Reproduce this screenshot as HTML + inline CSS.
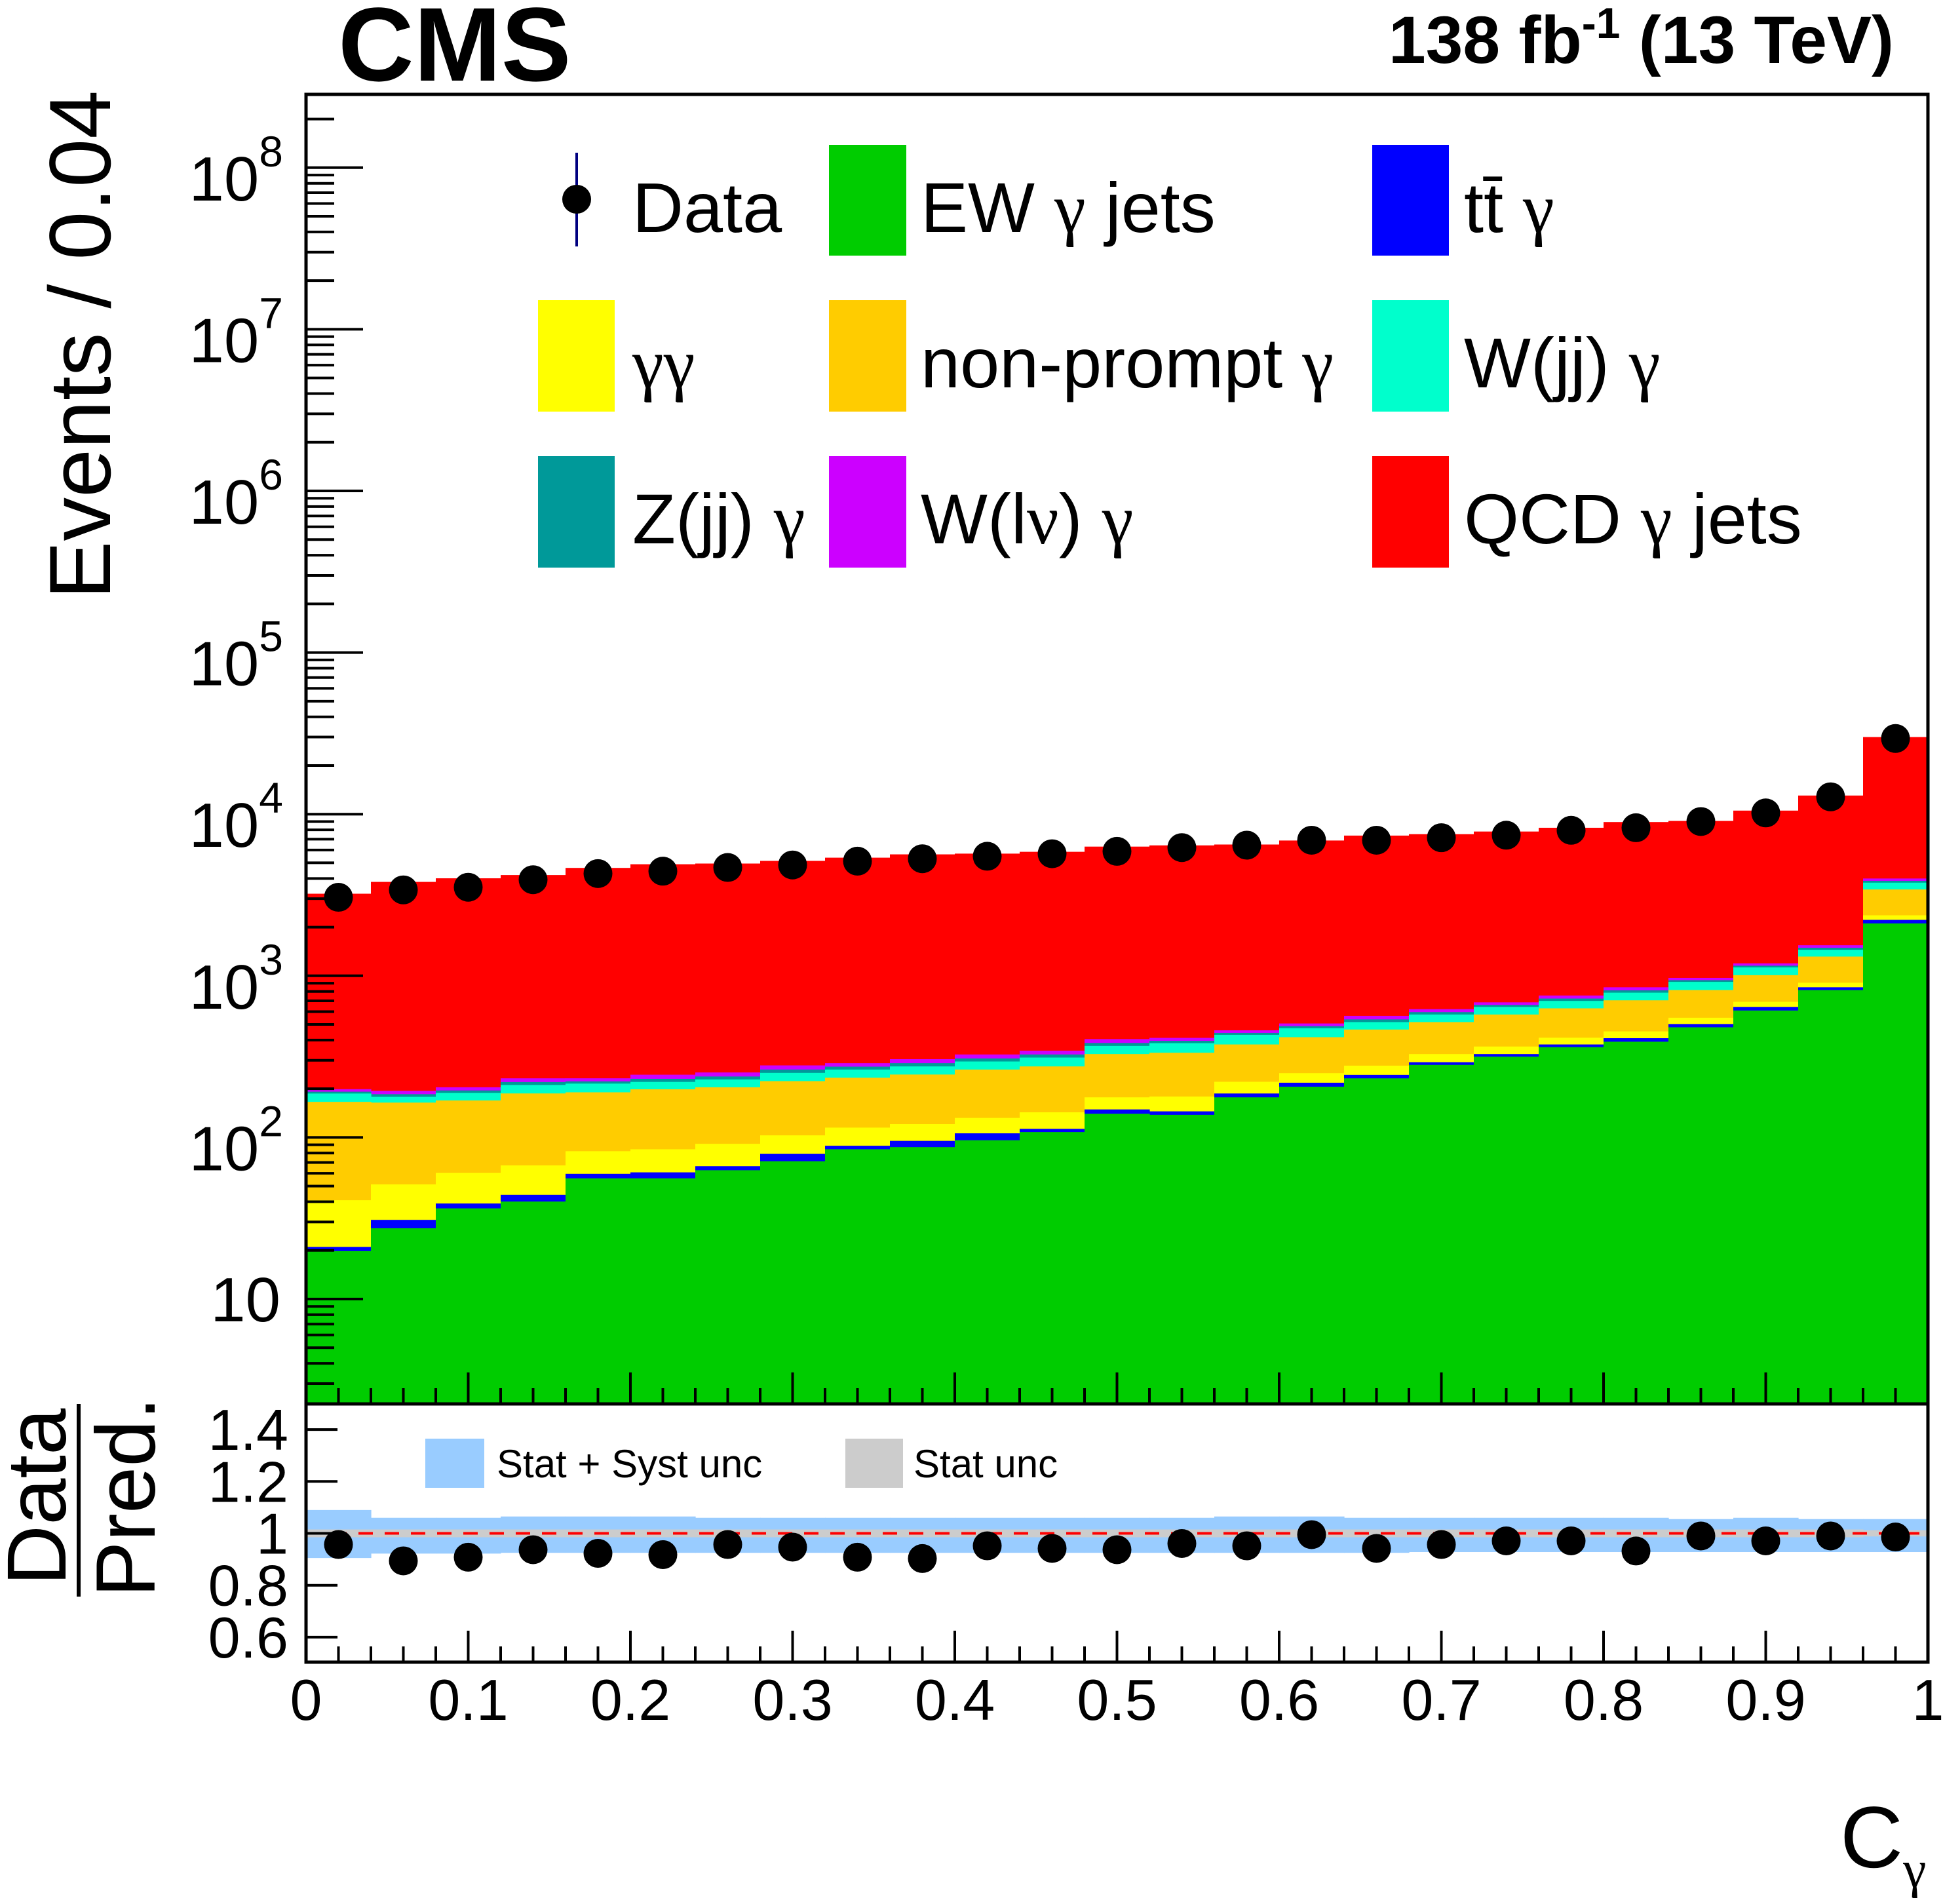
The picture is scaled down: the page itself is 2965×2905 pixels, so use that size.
<!DOCTYPE html>
<html><head><meta charset="utf-8"><style>
html,body{margin:0;padding:0;background:#fff;}
svg{display:block;}
text{font-family:"Liberation Sans",sans-serif;fill:#000;}
.g{font-family:"Liberation Serif",serif;}
</style></head><body>
<svg id="chart" width="2965" height="2905" viewBox="0 0 2965 2905" xmlns="http://www.w3.org/2000/svg">
<defs><clipPath id="mainclip"><rect x="467" y="144" width="2475" height="1998"/></clipPath>
<clipPath id="ratioclip"><rect x="467" y="2142" width="2475" height="394"/></clipPath></defs>
<g id="stacks" clip-path="url(#mainclip)"></g>
<g id="ratio" clip-path="url(#ratioclip)"></g>
<g id="axes"></g>
<g id="points"></g>

<text x="516" y="123" font-size="160" font-weight="bold">CMS</text>
<text x="2890" y="96" font-size="102" font-weight="bold" text-anchor="end">138 fb<tspan dy="-38" font-size="66">-1</tspan><tspan dy="38"> (13 TeV)</tspan></text>
<text transform="translate(168,526) rotate(-90)" font-size="133" text-anchor="middle">Events / 0.04</text>
<g>
<text transform="translate(100,2284) rotate(-90)" font-size="128" text-anchor="middle">Data</text>
<line x1="120" y1="2142" x2="120" y2="2436" stroke="#000" stroke-width="6"/>
<text transform="translate(236,2284) rotate(-90)" font-size="128" text-anchor="middle">Pred.</text>
</g>
<text x="2808" y="2849" font-size="133">C<tspan class="g" font-size="80" dy="30">γ</tspan></text>

<g id="legend">
<g><line x1="880" y1="233" x2="880" y2="376" stroke="#000080" stroke-width="4"/><circle cx="880" cy="304" r="22" fill="#000"/><text x="965" y="354" font-size="108">Data</text></g>
<g><rect x="1265" y="221" width="118" height="169" fill="#00cc00"/><text x="1405" y="354" font-size="108">EW <tspan class="g">γ</tspan> jets</text></g>
<g><rect x="2094" y="221" width="117" height="169" fill="#0000ff"/><text x="2234" y="354" font-size="108">tt̄ <tspan class="g">γ</tspan></text></g>
<g><rect x="821" y="458" width="117" height="170" fill="#ffff00"/><text x="965" y="591" font-size="108" class="g">γγ</text></g>
<g><rect x="1265" y="458" width="118" height="170" fill="#ffcc00"/><text x="1405" y="591" font-size="108">non-prompt <tspan class="g">γ</tspan></text></g>
<g><rect x="2094" y="458" width="117" height="170" fill="#00ffcc"/><text x="2234" y="591" font-size="108">W(jj) <tspan class="g">γ</tspan></text></g>
<g><rect x="821" y="696" width="117" height="170" fill="#009999"/><text x="965" y="829" font-size="108">Z(jj) <tspan class="g">γ</tspan></text></g>
<g><rect x="1265" y="696" width="118" height="170" fill="#cc00ff"/><text x="1405" y="829" font-size="108">W(l<tspan class="g">ν</tspan>) <tspan class="g">γ</tspan></text></g>
<g><rect x="2094" y="696" width="117" height="170" fill="#ff0000"/><text x="2234" y="829" font-size="108">QCD <tspan class="g">γ</tspan> jets</text></g>
</g>
<g>
<rect x="649" y="2195" width="90" height="75" fill="#99ccff"/><text x="758" y="2254" font-size="60">Stat + Syst unc</text>
<rect x="1290" y="2195" width="88" height="75" fill="#cccccc"/><text x="1394" y="2254" font-size="60">Stat unc</text>
</g>
</svg>
<script>
const binLow = [0,0.04,0.08,0.12,0.16,0.2,0.24,0.28,0.32,0.36,0.4,0.44,0.48,0.52,0.56,0.6,0.64,0.68,0.72,0.76,0.8,0.84,0.88,0.92,0.96];
const ewG = [19.8,27.4,36.4,40.1,55.8,55.8,62.7,71.2,84.5,87.1,96.1,108,140,138,177,206,232,281,316,362,391,480,610,816,2109];
const ttG = [1.2,3.5,2.6,4.1,3.8,5,3.7,7.9,4.3,8.1,9.9,5,9,7,10,12,12,11,12,14,20,23,32,33,109];
const ggG = [19.9,20.3,21.3,22.9,22.6,23.7,24.9,23.9,26.2,25.8,26,30,28,34,34,32,34,36,37,38,42,47,48,57,150];
const npG = [125,113,109,120,108,114,113,120,119,124,131,132,151,155,155,167,187,189,211,215,252,266,319,409,1052];
const wjjG = [21,14,19,24,25,22,24,28,29,30,32,37,40,49,55,57,52,59,66,70,81,101,118,133,347];
const zjjG = [5,7,7,9,7,10,10,12,11,13,13,14,16,13,12,14,20,20,18,24,27,23,28,42,100];
const wlvG = [7,9,9,12,10,14,14,16,14,17,18,18,22,17,17,19,28,26,25,32,36,31,39,56,132];
const qcdG = [3021,3616,3806,3968,4418,4655,4697,4861,5092,5335,5374,5506,5894,5996,6030,6363,6805,6898,7125,7485,8091,8109,9326,11494,26001];
const dataVals = [3060,3400,3530,3930,4290,4440,4680,4850,5120,5300,5490,5690,5890,6210,6430,6900,6900,7150,7410,7950,8240,9000,10180,12800,29400];
const ratioVals = [0.957,0.894,0.908,0.937,0.923,0.918,0.957,0.947,0.908,0.903,0.952,0.942,0.937,0.961,0.952,0.995,0.942,0.957,0.971,0.971,0.932,0.990,0.971,0.990,0.986];
const sysUp = [0.09,0.06,0.06,0.065,0.065,0.065,0.06,0.06,0.06,0.06,0.06,0.06,0.06,0.06,0.065,0.065,0.06,0.06,0.06,0.06,0.06,0.055,0.06,0.055,0.055];
const sysDn = [0.095,0.078,0.078,0.075,0.075,0.075,0.075,0.075,0.075,0.075,0.075,0.075,0.075,0.075,0.075,0.075,0.075,0.072,0.072,0.072,0.072,0.072,0.072,0.072,0.072];
const statUnc = [0.015,0.015,0.015,0.015,0.015,0.015,0.015,0.015,0.015,0.015,0.015,0.015,0.015,0.015,0.015,0.015,0.015,0.015,0.015,0.015,0.015,0.015,0.015,0.015,0.012];
const xTickLabels = ["0","0.1","0.2","0.3","0.4","0.5","0.6","0.7","0.8","0.9","1"];
const ratioTickLabels = ["0.6","0.8","1","1.2","1.4"];
const binW = 0.04;

const NS = "http://www.w3.org/2000/svg";
const X0=467, X1=2942, YT=144, YB=2142, RB=2536;
function xs(v){return X0 + v*(X1-X0);}
function ys(v){return 1982 - (Math.log10(v)-1)*246.6;}
function yr(r){return 2339.5 - (r-1)*396;}
function mk(tag, attrs, parent){const e=document.createElementNS(NS,tag);for(const k in attrs)e.setAttribute(k,attrs[k]);parent.appendChild(e);return e;}

const stacks = document.getElementById('stacks');
const layers = [
  {vals:ewG,color:'#00cc00',name:'ew-gamma-jets'},
  {vals:ttG,color:'#0000ff',name:'ttbar-gamma'},
  {vals:ggG,color:'#ffff00',name:'diphoton'},
  {vals:npG,color:'#ffcc00',name:'nonprompt-gamma'},
  {vals:wjjG,color:'#00ffcc',name:'wjj-gamma'},
  {vals:zjjG,color:'#009999',name:'zjj-gamma'},
  {vals:wlvG,color:'#cc00ff',name:'wlv-gamma'},
  {vals:qcdG,color:'#ff0000',name:'qcd-gamma-jets'}
];
const cum = layers.map(()=>[]);
for(let i=0;i<binLow.length;i++){let s=0;for(let l=0;l<layers.length;l++){s+=layers[l].vals[i];cum[l][i]=s;}}
for(let l=layers.length-1;l>=0;l--){
  const g=mk('g',{},stacks);
  
  
  for(let i=0;i<binLow.length;i++){
    const xa=xs(binLow[i]), xb=xs(binLow[i]+binW), yt=ys(cum[l][i]);
    const r=mk('rect',{x:xa,y:yt,width:xb-xa+0.6,height:YB-yt,fill:layers[l].color},g);
    
    
  }
}

const ratio = document.getElementById('ratio');
for(let i=0;i<binLow.length;i++){
  const xa=xs(binLow[i]), xb=xs(binLow[i]+binW);
  const b=mk('rect',{x:xa,y:yr(1+sysUp[i]),width:xb-xa+0.6,height:yr(1-sysDn[i])-yr(1+sysUp[i]),fill:'#99ccff'},ratio);
  
  
}
for(let i=0;i<binLow.length;i++){
  const xa=xs(binLow[i]), xb=xs(binLow[i]+binW);
  const b=mk('rect',{x:xa,y:yr(1+statUnc[i]),width:xb-xa+0.6,height:yr(1-statUnc[i])-yr(1+statUnc[i]),fill:'#cccccc'},ratio);
  
  
}
const ref=mk('line',{x1:X0,x2:X1,y1:yr(1),y2:yr(1),stroke:'#ff0000','stroke-width':4,'stroke-dasharray':'22 18'},ratio);



const axes = document.getElementById('axes');
const ax = (a)=>{const e=mk('line',Object.assign({stroke:'#000','stroke-width':4},a),axes);return e;};
const f1=mk('rect',{x:X0,y:YT,width:X1-X0,height:YB-YT,fill:'none',stroke:'#000','stroke-width':5},axes);


const f2=mk('rect',{x:X0,y:YB,width:X1-X0,height:RB-YB,fill:'none',stroke:'#000','stroke-width':5},axes);


for(let d=0;d<=8;d++){
  for(let m=1;m<=9;m++){
    const v=m*Math.pow(10,d); const y=ys(v);
    if(y<YT+2||y>YB-2) continue;
    ax({x1:X0,x2:X0+(m===1?87:43),y1:y,y2:y});
  }
}
const ylabs=[[1,'10',''],[2,'10','2'],[3,'10','3'],[4,'10','4'],[5,'10','5'],[6,'10','6'],[7,'10','7'],[8,'10','8']];
ylabs.forEach(([d,b,e])=>{
  const y=ys(Math.pow(10,d));
  const t=mk('text',{'font-size':96,'text-anchor':'end'},axes);
  if(e===''){t.setAttribute('x',428);t.setAttribute('y',y+34);t.textContent=b;}
  else{t.setAttribute('x',432);t.setAttribute('y',y+50);t.innerHTML=b+'<tspan dy="-52" font-size="66">'+e+'</tspan>';}
  
  
});
for(let k=0;k<=50;k++){
  const x=xs(k/50); const major=(k%5===0);
  ax({x1:x,x2:x,y1:YB,y2:YB-(major?48:24)});
  ax({x1:x,x2:x,y1:RB,y2:RB-(major?48:24)});
}
xTickLabels.forEach((l,i)=>{
  const t=mk('text',{x:xs(i/10),y:2624,'font-size':88,'text-anchor':'middle'},axes);
  t.textContent=l;
  
  
});
ratioTickLabels.forEach(l=>{
  const y=yr(parseFloat(l));
  ax({x1:X0,x2:X0+48,y1:y,y2:y});
  const t=mk('text',{x:440,y:y+31,'font-size':88,'text-anchor':'end'},axes);
  t.textContent=l;
  
  
});

const pts = document.getElementById('points');
for(let i=0;i<binLow.length;i++){
  const cx=xs(binLow[i]+binW/2);
  const c=mk('circle',{cx:cx,cy:ys(dataVals[i]),r:22,fill:'#000'},pts);
  
  
  const r=mk('circle',{cx:cx,cy:yr(ratioVals[i]),r:22,fill:'#000'},pts);
  
  
}
</script>
</body></html>
